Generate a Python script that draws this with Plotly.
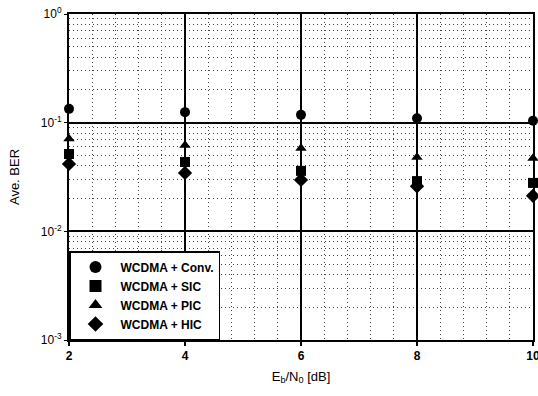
import plotly.graph_objects as go

snr_db = [2, 4, 6, 8, 10]
ber_conv = [0.134, 0.125, 0.118, 0.110, 0.104]
ber_sic = [0.0515, 0.0435, 0.036, 0.029, 0.0279]
ber_pic = [0.071, 0.062, 0.058, 0.048, 0.047]
ber_hic = [0.0417, 0.0345, 0.0297, 0.026, 0.0212]
series_names = ["WCDMA + Conv.", "WCDMA + SIC", "WCDMA + PIC", "WCDMA + HIC"]
symbols = ["circle", "square", "triangle-up", "diamond"]
x_ticks = [2, 4, 6, 8, 10]
y_ticks = [1e-3, 1e-2, 1e-1, 1]
y_ticktext = ["10<sup>-3</sup>", "10<sup>-2</sup>", "10<sup>-1</sup>", "10<sup>0</sup>"]

fig = go.Figure()
for name, vals, sym in zip(series_names, [ber_conv, ber_sic, ber_pic, ber_hic], symbols):
    fig.add_trace(go.Scatter(
        x=snr_db, y=vals, mode="markers", name=name,
        marker=dict(symbol=sym, size=10 if sym != "diamond" else 11, color="black"),
        cliponaxis=False,
    ))

font = "Liberation Sans, Arial, sans-serif"
minor_grid = dict(showgrid=True, gridcolor="#444", griddash="1px,3px", gridwidth=1)
fig.update_layout(
    width=538, height=396,
    margin=dict(l=69, r=5, t=14, b=56, autoexpand=False),
    plot_bgcolor="white", paper_bgcolor="white",
    font=dict(family=font, size=12, color="black"),
    showlegend=True,
    legend=dict(
        x=0, y=0, xanchor="left", yanchor="bottom",
        bgcolor="white", bordercolor="black", borderwidth=1.5,
        font=dict(family=font, size=12, color="black", weight="bold"),
        itemsizing="constant", tracegroupgap=0, itemwidth=40,
    ),
    xaxis=dict(
        range=[2, 10], tickvals=x_ticks, ticks="outside", ticklen=4,
        tickcolor="black", tickwidth=1.5, automargin=False,
        ticklabeloverflow="allow",
        showline=True, linecolor="black", linewidth=2, mirror=True,
        showgrid=True, gridcolor="black", gridwidth=1.5,
        zeroline=False,
        tickfont=dict(family=font, size=12, color="black", weight="bold"),
        title=dict(text="E<sub>b</sub>/N<sub>0</sub> [dB]", font=dict(size=13), standoff=9),
        minor=dict(dtick=0.4, tick0=2, **minor_grid),
    ),
    yaxis=dict(
        type="log", range=[-3, 0], tickvals=y_ticks, ticktext=y_ticktext,
        ticks="outside", ticklen=3, tickcolor="black", automargin=False,
        showline=True, linecolor="black", linewidth=2, mirror=True,
        showgrid=True, gridcolor="black", gridwidth=1.5,
        zeroline=False,
        tickfont=dict(family=font, size=12, color="black"),
        title=dict(text="Ave. BER", font=dict(size=13), standoff=18),
        minor=dict(dtick="D1", **minor_grid),
    ),
)

fig.write_html("out.html", config={"displayModeBar": False},
               post_script="document.body.style.margin='0px';")
